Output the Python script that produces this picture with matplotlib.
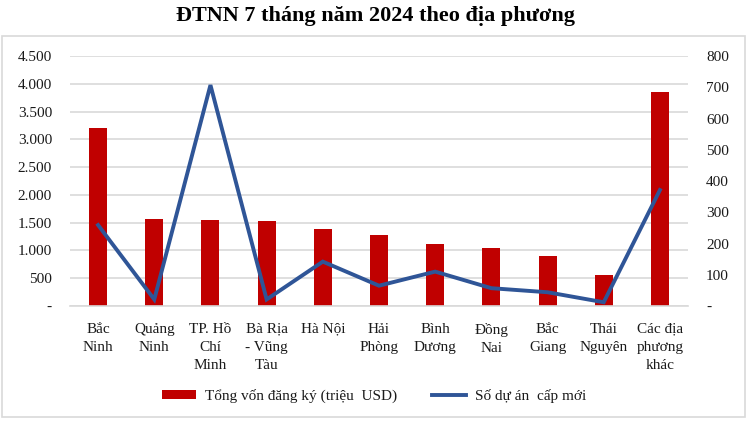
import matplotlib
matplotlib.use("Agg")
import matplotlib.pyplot as plt
from matplotlib.patches import Rectangle
from matplotlib.ticker import FixedLocator, FuncFormatter

plt.rcParams['font.family'] = ['Liberation Serif', 'DejaVu Serif']

categories = ["Bắc\nNinh", "Quảng\nNinh", "TP. Hồ\nChí\nMinh", "Bà Rịa\n- Vũng\nTàu",
              "Hà Nội", "Hải\nPhòng", "Bình\nDương", "Đồng\nNai", "Bắc\nGiang",
              "Thái\nNguyên", "Các địa\nphương\nkhác"]
capital = [3200, 1560, 1542, 1524, 1380, 1272, 1122, 1044, 906, 558, 3858]
projects = [259, 21, 707, 21, 142, 65, 110, 57, 44, 12, 371]

left_ticks = [0, 500, 1000, 1500, 2000, 2500, 3000, 3500, 4000, 4500]
right_ticks = [0, 100, 200, 300, 400, 500, 600, 700, 800]

title = "ĐTNN 7 tháng năm 2024 theo địa phương"
bar_label = "Tổng vốn đăng ký (triệu  USD)"
line_label = "Số dự án  cấp mới"

RED = "#C00000"
BLUE = "#2F5597"
TXT = "#1a1a1a"
GRID = "#D9D9D9"

fig = plt.figure(figsize=(7.5, 4.23), dpi=100)
fig.patches.append(Rectangle((1.5/750, 6/423), 743/750, 381/423, transform=fig.transFigure,
                             fill=False, edgecolor="#D9D9D9", linewidth=1.2))

ax = fig.add_axes([70/750, 117/423, 618/750, 250/423])
ax2 = ax.twinx()

x = list(range(len(categories)))
b = ax.bar(x, capital, width=0.32, color=RED, zorder=2, label=bar_label)
l, = ax2.plot(x, projects, color=BLUE, linewidth=2.8, zorder=3, label=line_label,
              solid_joinstyle='miter')

ax.set_xlim(-0.5, len(categories) - 0.5)
ax.set_ylim(0, 4500)
ax2.set_ylim(0, 800)

def fmt(v, pos):
    if v == 0:
        return "-"
    return f"{int(v):,}".replace(",", ".")

ax.yaxis.set_major_locator(FixedLocator(left_ticks))
ax.yaxis.set_major_formatter(FuncFormatter(fmt))
ax2.yaxis.set_major_locator(FixedLocator(right_ticks))
ax2.yaxis.set_major_formatter(FuncFormatter(fmt))

ax.set_xticks(x)
ax.set_xticklabels(categories, fontsize=11, color=TXT, linespacing=1.5)
ax.tick_params(axis='x', length=0, pad=12)
ax.tick_params(axis='y', length=0, pad=13, labelsize=11, labelcolor=TXT)
ax2.tick_params(axis='y', length=0, pad=13, labelsize=11, labelcolor=TXT)

ax.grid(axis='y', color=GRID, linewidth=1.2, zorder=0)
ax.set_axisbelow(True)
for a in (ax, ax2):
    for s in a.spines.values():
        s.set_visible(False)
ax.spines['bottom'].set_visible(True)
ax.spines['bottom'].set_color(GRID)
ax.spines['bottom'].set_linewidth(1.2)

fig.text(0.5, 1 - 16/423, title, ha='center', va='center', fontsize=16,
         fontweight='bold', color='black')

leg = fig.legend([b, l], [bar_label, line_label], loc='center',
                 bbox_to_anchor=(374/750, 1 - 396/423), ncol=2, frameon=False,
                 fontsize=11, handlelength=2.2, handleheight=0.5,
                 handletextpad=0.6, columnspacing=2.3, labelcolor=TXT)

fig.savefig("out.png", dpi=100)
